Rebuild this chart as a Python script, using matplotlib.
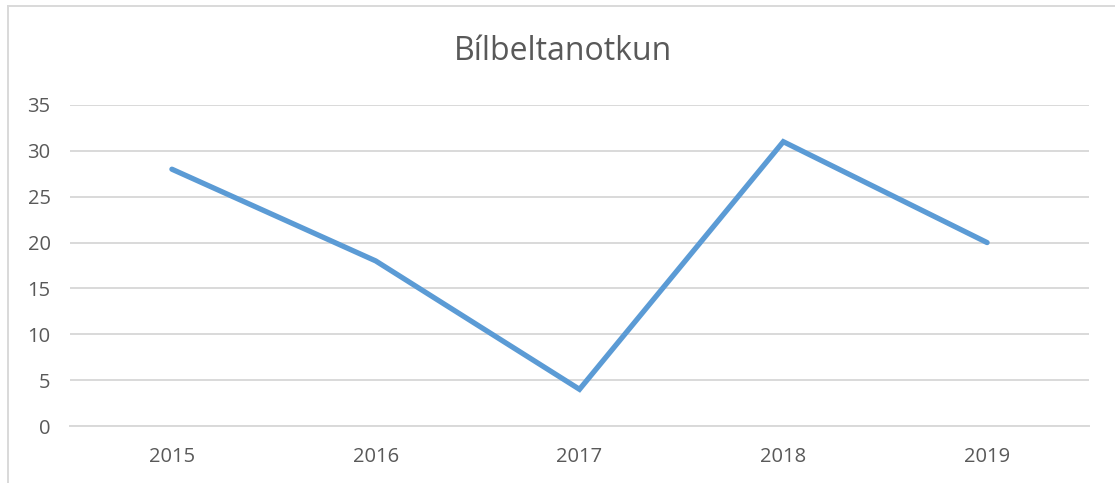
import matplotlib
matplotlib.use('Agg')
import matplotlib.pyplot as plt
from matplotlib.lines import Line2D

# データ
years = ['2015', '2016', '2017', '2018', '2019']
values = [28, 18, 4, 31, 20]
y_ticks = [0, 5, 10, 15, 20, 25, 30, 35]

TEXT_COLOR = '#595959'
GRID_COLOR = '#d9d9d9'
LINE_COLOR = '#5b9bd5'

plt.rcParams['font.family'] = ['Open Sans', 'DejaVu Sans']

fig = plt.figure(figsize=(11.15, 4.83), dpi=100)
ax = fig.add_axes([70 / 1115, 57 / 483, (1089 - 70) / 1115, (426 - 105) / 483])

x = range(len(years))
ax.plot(x, values, color=LINE_COLOR, linewidth=3.8, solid_capstyle='round',
        solid_joinstyle='miter')

ax.set_xlim(-0.5, len(years) - 0.5)
ax.set_ylim(0, 35)
ax.set_yticks(y_ticks)
ax.set_xticks(list(x))
ax.set_xticklabels(years)

ax.grid(axis='y', color=GRID_COLOR, linewidth=1.4)
ax.set_axisbelow(True)
for side in ['top', 'right', 'left']:
    ax.spines[side].set_visible(False)
ax.spines['bottom'].set_color(GRID_COLOR)
ax.spines['bottom'].set_linewidth(1.4)
ax.tick_params(axis='both', length=0, labelsize=14.5, colors=TEXT_COLOR)
ax.tick_params(axis='y', pad=14)
ax.tick_params(axis='x', pad=15)

fig.text(563 / 1115, 1 - 52 / 483, 'Bílbeltanotkun', ha='center', va='center',
         fontsize=23, color=TEXT_COLOR)

# チャート枠（上と左）
fig.add_artist(Line2D([8 / 1115, 1], [1 - 6 / 483, 1 - 6 / 483],
                      transform=fig.transFigure, color=GRID_COLOR, linewidth=1.4))
fig.add_artist(Line2D([8 / 1115, 8 / 1115], [0, 1 - 6 / 483],
                      transform=fig.transFigure, color=GRID_COLOR, linewidth=1.4))

fig.savefig('out.png', dpi=100)
